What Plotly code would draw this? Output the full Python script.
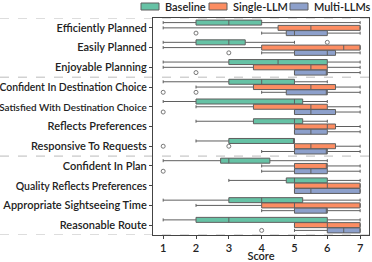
import plotly.graph_objects as go

categories = ["Efficiently Planned", "Easily Planned", "Enjoyable Planning",
              "Confident In Destination Choice", "Satisfied With Destination Choice",
              "Reflects Preferences", "Responsive To Requests", "Confident In Plan",
              "Quality Reflects Preferences", "Appropriate Sightseeing Time", "Reasonable Route"]

# Baseline
base_q1 = [2, 2, 3, 3, 2, 3.75, 3, 2.75, 4.75, 3, 2]
base_med = [3, 3, 4.5, 4, 5, 5, 5, 3, 5, 4, 3]
base_q3 = [4, 3.5, 6, 5, 5.25, 5.25, 5, 4.25, 6, 5.25, 6]
base_lo = [1, 1, 1, 1, 1, 2, 2, 1, 3, 1, 1]
base_hi = [7, 5, 7, 6, 6, 6, 5, 6, 7, 7, 7]
base_out_cat = ["Easily Planned"]
base_out_val = [6]

# Single-LLM
single_q1 = [4.5, 4, 3.75, 3.75, 3.75, 5, 5, 5, 5, 4, 5]
single_med = [5.5, 6.5, 5.5, 5.5, 5.5, 6, 5.5, 6, 6, 5, 6]
single_q3 = [7, 7, 6, 6.25, 6, 6.25, 6.25, 6, 7, 7, 7]
single_lo = [1, 1, 1, 2, 2, 5, 5, 4, 5, 2, 5]
single_hi = [7, 7, 7, 7, 7, 7, 7, 7, 7, 7, 7]
single_out_cat = ["Responsive To Requests", "Responsive To Requests"]
single_out_val = [1, 3]

# Multi-LLMs
multi_q1 = [4.75, 5, 5, 4.75, 5, 5, 5, 5, 5, 5, 6]
multi_med = [5, 6, 6, 6, 5.5, 5.5, 6, 5.5, 5.5, 6, 6.5]
multi_q3 = [6, 6.25, 6, 6, 6.25, 6, 6, 6, 7, 6, 7]
multi_lo = [4, 4, 5, 4, 5, 5, 4, 4, 5, 4, 5]
multi_hi = [7, 7, 7, 7, 7, 7, 7, 7, 7, 7, 7]
multi_out_cat = ["Efficiently Planned", "Easily Planned", "Enjoyable Planning",
                 "Confident In Destination Choice", "Confident In Destination Choice",
                 "Satisfied With Destination Choice", "Confident In Plan", "Reasonable Route"]
multi_out_val = [2, 3, 2, 1, 2, 1, 1, 4]

series_names = ["Baseline", "Single-LLM", "Multi-LLMs"]
series_colors = ["#66c2a5", "#fc8d62", "#8da0cb"]
x_ticks = [1, 2, 3, 4, 5, 6, 7]
separators_after = [-1, 2, 6, 10]  # last index of each section

stats = [
    (base_q1, base_med, base_q3, base_lo, base_hi, base_out_cat, base_out_val),
    (single_q1, single_med, single_q3, single_lo, single_hi, single_out_cat, single_out_val),
    (multi_q1, multi_med, multi_q3, multi_lo, multi_hi, multi_out_cat, multi_out_val),
]

FONT = "Lato"
GAP = 0.2
edge = "#5f5f5f"
W, H = 372, 262
ML, MR, MT, MB = 153, 3, 18, 27
PW, PH = W - ML - MR, H - MT - MB
# the installed font is wider than the original on the longest labels: shrink only those
label_font_override = {"Confident In Destination Choice": 10.4,
                       "Satisfied With Destination Choice": 9.9,
                       "Quality Reflects Preferences": 10.5}


def px_x(px):
    return (px - ML) / PW


def px_y(py):
    return (H - MB - py) / PH


def label_text(c):
    if c in label_font_override:
        return '<span style="font-size:%spx">%s</span>' % (label_font_override[c], c)
    return c


fig = go.Figure()
for name, color, (q1, med, q3, lo, hi, oc, ov) in zip(series_names, series_colors, stats):
    fig.add_trace(go.Box(
        name=name, y=categories, q1=q1, median=med, q3=q3,
        lowerfence=lo, upperfence=hi, orientation="h",
        fillcolor=color, line=dict(color=edge, width=1),
        whiskerwidth=0.6, boxpoints=False, offsetgroup=name,
        alignmentgroup="a", showlegend=False,
    ))
for name, color, (q1, med, q3, lo, hi, oc, ov) in zip(series_names, series_colors, stats):
    fig.add_trace(go.Scatter(
        x=ov, y=oc, mode="markers", orientation="h", offsetgroup=name,
        alignmentgroup="a", name=name,
        marker=dict(symbol="circle-open", size=4, color="#777777", line=dict(width=1)),
        showlegend=False, hoverinfo="skip",
    ))

shapes = []
for s in separators_after:
    shapes.append(dict(type="line", xref="paper", yref="y", x0=px_x(0), x1=1,
                       y0=s + 0.5, y1=s + 0.5, layer="below",
                       line=dict(color="#bbbbbb", width=1, dash="dash")))

# legend row (swatch + label) above the plot, right aligned
legend_swatch_left = [141, 209, 290]
legend_text_left = [163, 231, 312]
annotations = []
for name, color, sx, tx in zip(series_names, series_colors, legend_swatch_left, legend_text_left):
    shapes.append(dict(type="rect", xref="paper", yref="paper",
                       x0=px_x(sx), x1=px_x(sx + 18), y0=px_y(10), y1=px_y(3),
                       fillcolor=color, line=dict(color=edge, width=1)))
    annotations.append(dict(text=name, xref="paper", yref="paper", x=px_x(tx), y=px_y(6.5),
                            xanchor="left", yanchor="middle", showarrow=False,
                            font=dict(size=11, weight=600, color="#222222")))

fig.update_layout(
    width=W, height=H,
    margin=dict(l=ML, r=MR, t=MT, b=MB, autoexpand=False),
    paper_bgcolor="white", plot_bgcolor="white",
    boxmode="group", boxgap=GAP, boxgroupgap=0.05,
    scattermode="group", scattergap=GAP,
    font=dict(family=FONT, size=11, color="#222222"),
    shapes=shapes, annotations=annotations,
    showlegend=False,
)
fig.update_xaxes(range=[0.69, 7.27], tickvals=x_ticks, ticks="outside", ticklen=3,
                 showline=True, linecolor="#444444", mirror=True, showgrid=False,
                 zeroline=False, tickfont=dict(size=11, weight=600),
                 title=dict(text="Score", font=dict(size=11, weight=600), standoff=4))
fig.update_yaxes(type="category", categoryorder="array", categoryarray=categories,
                 tickmode="array", tickvals=categories,
                 ticktext=[label_text(c) for c in categories],
                 range=[10.5, -0.5], ticks="outside", ticklen=3, showline=True,
                 linecolor="#444444", mirror=True, showgrid=False,
                 tickfont=dict(size=11, weight=600))

fig.write_html("out.html", config={"displayModeBar": False},
               post_script="document.body.style.margin='0';document.body.style.padding='0';")
